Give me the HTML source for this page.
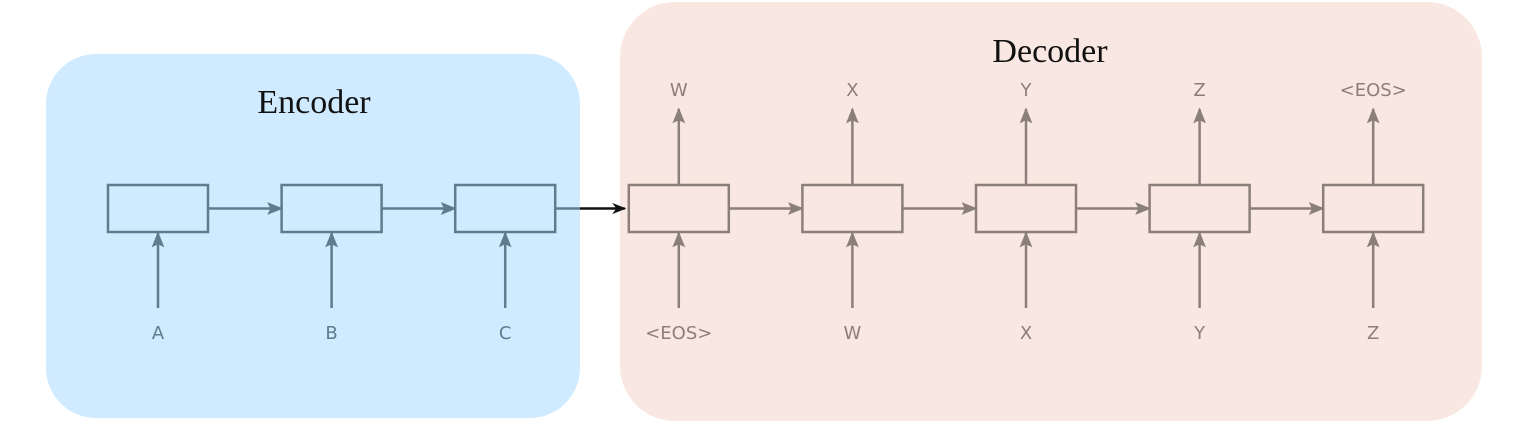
<!DOCTYPE html>
<html><head><meta charset="utf-8"><style>
html,body{margin:0;padding:0;background:#fff;width:1517px;height:423px;overflow:hidden}
svg{display:block}
</style></head><body>
<svg id="d" width="1517" height="423" xmlns="http://www.w3.org/2000/svg">
<defs>
<marker id="ae" viewBox="0 0 10 10" refX="9" refY="5" markerUnits="userSpaceOnUse" markerWidth="16" markerHeight="16" orient="auto"><path d="M0,1 L10,5 L0,9 L2,5 z" fill="#5e7c8e"/></marker>
<marker id="ad" viewBox="0 0 10 10" refX="9" refY="5" markerUnits="userSpaceOnUse" markerWidth="16" markerHeight="16" orient="auto"><path d="M0,1 L10,5 L0,9 L2,5 z" fill="#8b7f79"/></marker>
<marker id="ak" viewBox="0 0 10 10" refX="9" refY="5" markerUnits="userSpaceOnUse" markerWidth="14" markerHeight="14" orient="auto"><path d="M0,1 L10,5 L0,9 L3,5 z" fill="#111"/></marker>
</defs>
<rect x="46" y="54" width="534" height="364" rx="50" fill="#d0ebff"/>
<rect x="620" y="2" width="862" height="419" rx="55" fill="#f9e8e1"/>
<text x="314" y="113" font-family="Liberation Serif, serif" font-size="34" text-anchor="middle" fill="#111">Encoder</text>
<text x="1050" y="62" font-family="Liberation Serif, serif" font-size="34" text-anchor="middle" fill="#111">Decoder</text>
<g id="g"></g>
</svg>
<script>
const encInputs = ["A","B","C"];
const decInputs = ["<EOS>","W","X","Y","Z"];
const decOutputs = ["W","X","Y","Z","<EOS>"];
const NS="http://www.w3.org/2000/svg";
const g=document.getElementById('g');
function mk(t,a){const e=document.createElementNS(NS,t);for(const k in a)e.setAttribute(k,a[k]);g.appendChild(e);return e;}
function cx(i){return 158+i*173.6;}
const W=100,H=47,Y=185;
const all=encInputs.length+decInputs.length;
for(let i=0;i<all;i++){
  const enc=i<encInputs.length;
  const col=enc?"#5e7c8e":"#8b7f79";
  const mkid=enc?"url(#ae)":"url(#ad)";
  const x=cx(i);
  const r=mk('rect',{x:x-W/2,y:Y,width:W,height:H,fill:"none",stroke:col,"stroke-width":2.5});
  
  
  const a=mk('line',{x1:x,y1:308,x2:x,y2:Y+H+1,stroke:col,"stroke-width":2.5,"marker-end":mkid});
  
  
  const lab=enc?encInputs[i]:decInputs[i-encInputs.length];
  const t=mk('text',{x:x,y:339,"font-family":"DejaVu Sans, sans-serif","font-size":18,"text-anchor":"middle",fill:col});
  t.textContent=lab;
  
  
  if(!enc){
    const o=mk('line',{x1:x,y1:Y,x2:x,y2:109,stroke:col,"stroke-width":2.5,"marker-end":mkid});
    
    
    const ot=mk('text',{x:x,y:96,"font-family":"DejaVu Sans, sans-serif","font-size":18,"text-anchor":"middle",fill:col});
    ot.textContent=decOutputs[i-encInputs.length];
    
    
  }
  if(i<all-1){
    const bridge=(i===encInputs.length-1);
    const c=bridge?"#111":col;
    const m=bridge?"url(#ak)":mkid;
    const h=mk('line',{x1:bridge?580:x+W/2,y1:Y+H/2,x2:cx(i+1)-W/2-(bridge?4:0),y2:Y+H/2,stroke:c,"stroke-width":2.5,"marker-end":m});
    if(bridge){mk('line',{x1:x+W/2,y1:Y+H/2,x2:580,y2:Y+H/2,stroke:col,"stroke-width":2.5});}
    
    
  }
}
</script>
</body></html>
